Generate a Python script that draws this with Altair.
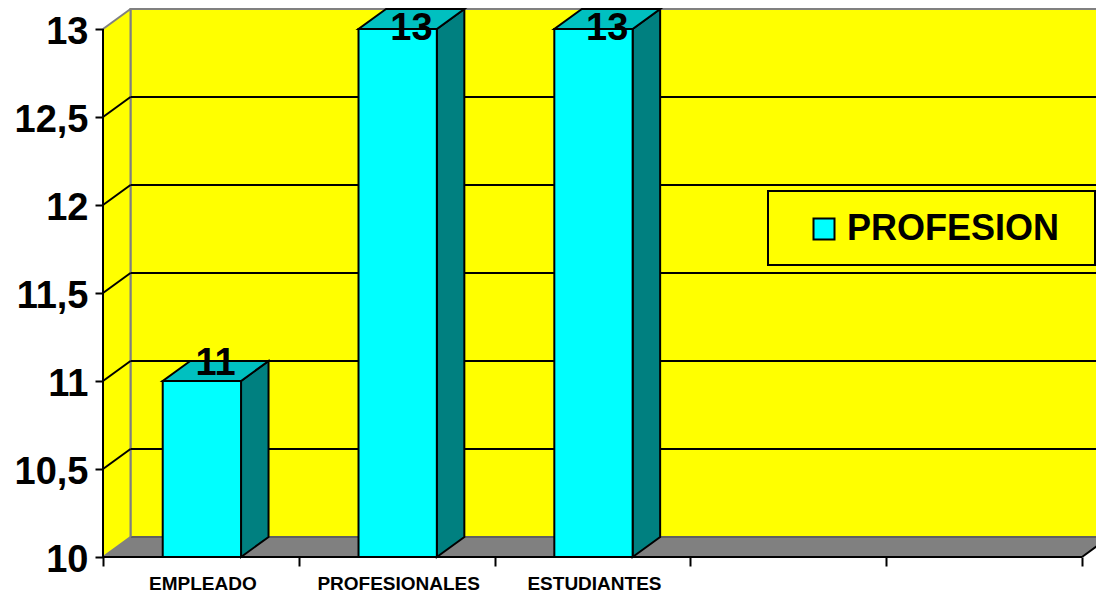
import altair as alt
import pandas as pd

# values
categories = ["EMPLEADO", "PROFESIONALES", "ESTUDIANTES"]
values = [11, 13, 13]
series_name = "PROFESION"
y_ticks = [10, 10.5, 11, 11.5, 12, 12.5, 13]
x_edges = [0, 1, 2, 3, 4, 5]

FONT = "Liberation Sans"
YEL, CYAN, TEAL, TOPC, GRAY = "#FFFF00", "#00FFFF", "#008080", "#00C0C0", "#808080"

PX_X, PX_Y = 195.8, 176.0
W, H = 993, 549
DX, DY = 27.5 / PX_X, 20 / PX_Y      # oblique depth, in data units
XMAX = W / PX_X
YMIN, YMAX = 10, 10 + H / PX_Y
N = len(x_edges) - 1
BAR_W, BAR_C = 0.4, 0.505
LABEL_CAP = 13.0

xs = alt.Scale(domain=[0, XMAX], nice=False, zero=False)
ys = alt.Scale(domain=[YMIN, YMAX], nice=False, zero=False)
X = alt.X("x:Q", scale=xs, axis=None)
Y = alt.Y("y:Q", scale=ys, axis=None)

def rules(rows, color, width=2):
    return alt.Chart(pd.DataFrame(rows, columns=["x", "y", "x2", "y2"])).mark_rule(
        color=color, strokeWidth=width
    ).encode(x=X, y=Y, x2="x2:Q", y2="y2:Q")

def vpoly(rows, fill, stroke=None):
    kw = {"stroke": stroke, "strokeWidth": 2} if stroke else {}
    return alt.Chart(pd.DataFrame(rows, columns=["k", "x", "y", "y2"])).mark_area(
        orient="vertical", fill=fill, opacity=1, **kw
    ).encode(x=X, y=Y, y2="y2:Q", detail="k:N")

def hpoly(rows, fill, stroke=None):
    kw = {"stroke": stroke, "strokeWidth": 2} if stroke else {}
    return alt.Chart(pd.DataFrame(rows, columns=["k", "y", "x", "x2"])).mark_area(
        orient="horizontal", fill=fill, opacity=1, **kw
    ).encode(y=Y, x=X, x2="x2:Q", detail="k:N")

# back wall, carrying the real axes
wall = alt.Chart(pd.DataFrame([{"x": DX, "x2": XMAX + 1, "y": YMIN + DY, "y2": 13 + DY}])).mark_rect(
    fill=YEL, stroke=GRAY, strokeWidth=2
).encode(
    x=alt.X("x:Q", scale=xs, axis=alt.Axis(
        values=x_edges, labels=False, title=None, domain=False, grid=False,
        tickSize=9, tickWidth=2, tickColor="black", orient="bottom", zindex=1)),
    y=alt.Y("y:Q", scale=ys, axis=alt.Axis(
        values=y_ticks, title=None, domain=False, grid=False, format=".1~f",
        labelExpr="replace(datum.label, '.', ',')",
        tickSize=8, tickWidth=2, tickColor="black", labelPadding=7, labelOffset=3,
        labelFont=FONT, labelFontWeight="bold", labelFontSize=38, labelColor="black",
        orient="left", zindex=1)),
    x2="x2:Q", y2="y2:Q",
)

left_wall = vpoly([["w", 0, YMIN, 13], ["w", DX, YMIN + DY, 13 + DY]], YEL)
floor = hpoly([["f", YMIN, 0, N], ["f", YMIN + DY, DX, N + DX]], GRAY)

grid_vals = [v for v in y_ticks if YMIN < v < 13]
grid = rules([[DX, v + DY, XMAX, v + DY] for v in grid_vals], "black")
grid_diag = rules([[0, v, DX, v + DY] for v in grid_vals], "black")
wall_edges = rules(
    [[DX, YMIN + DY, DX, 13 + DY], [0, 13, DX, 13 + DY], [0, YMIN, DX, YMIN + DY]], GRAY
)
floor_back = rules([[DX, YMIN + DY, XMAX, YMIN + DY]], "#606060")
axis_lines = rules([[0, YMIN, 0, 13], [0, YMIN, N, YMIN], [N, YMIN, N + DX, YMIN + DY]], "black")

side_rows, top_rows, front_rows = [], [], []
for i, (c, v) in enumerate(zip(categories, values)):
    x0, x1 = i + BAR_C - BAR_W / 2, i + BAR_C + BAR_W / 2
    side_rows += [[c, x1, YMIN, v], [c, x1 + DX, YMIN + DY, v + DY]]
    top_rows += [[c, v, x0, x1], [c, v + DY, x0 + DX, x1 + DX]]
    front_rows.append({"x": x0, "x2": x1, "y": v, "y2": YMIN, "s": series_name})

sides = vpoly(side_rows, TEAL, "black")
tops = hpoly(top_rows, TOPC, "black")
fronts = alt.Chart(pd.DataFrame(front_rows)).mark_rect(stroke="black", strokeWidth=2, opacity=1).encode(
    x=X, x2="x2:Q", y=Y, y2="y2:Q",
    color=alt.Color("s:N", scale=alt.Scale(domain=[series_name], range=[CYAN]), legend=alt.Legend(
        title=None, orient="none", legendX=703, legendY=203,
        padding=0,
        symbolType="square", symbolSize=441, symbolStrokeColor="black", symbolStrokeWidth=2,
        labelOffset=5,
        labelFont=FONT, labelFontWeight="bold", labelFontSize=36, labelColor="black", labelLimit=400,
    )),
)

# legend frame
legend_box = alt.Chart(pd.DataFrame([{
    "x": (768 - 103) / PX_X, "x2": (1095 - 103) / PX_X,
    "y": 10 + (557 - 191) / PX_Y, "y2": 10 + (557 - 265) / PX_Y,
}])).mark_rect(fill=YEL, stroke="black", strokeWidth=2).encode(x=X, x2="x2:Q", y=Y, y2="y2:Q")

data_labels = alt.Chart(pd.DataFrame({
    "x": [i + BAR_C + DX / 2 for i in range(len(values))],
    "y": [min(v + 0.096, LABEL_CAP) for v in values],
    "t": [str(v) for v in values],
})).mark_text(font=FONT, fontWeight="bold", fontSize=38, color="black", align="center", baseline="middle").encode(
    x=X, y=Y, text="t:N"
)

cat_labels = alt.Chart(pd.DataFrame({
    "x": [i + 0.51 for i in range(len(categories))],
    "y": [YMIN] * len(categories),
    "t": categories,
})).mark_text(font=FONT, fontWeight="bold", fontSize=19, color="black", align="center", baseline="middle", dy=27).encode(
    x=X, y=Y, text="t:N"
)

chart = alt.layer(
    wall, left_wall, floor, floor_back, wall_edges, grid, grid_diag, legend_box,
    sides, tops, fronts, axis_lines, data_labels, cat_labels,
).resolve_axis(x="independent", y="independent").properties(
    width=W, height=H,
    padding={"left": 95, "top": 0, "right": 0, "bottom": 38},
    autosize=alt.AutoSizeParams(type="none"),
    background="white",
).configure_view(stroke=None)

chart.save("out.html", embed_options={"renderer": "svg", "actions": False})
